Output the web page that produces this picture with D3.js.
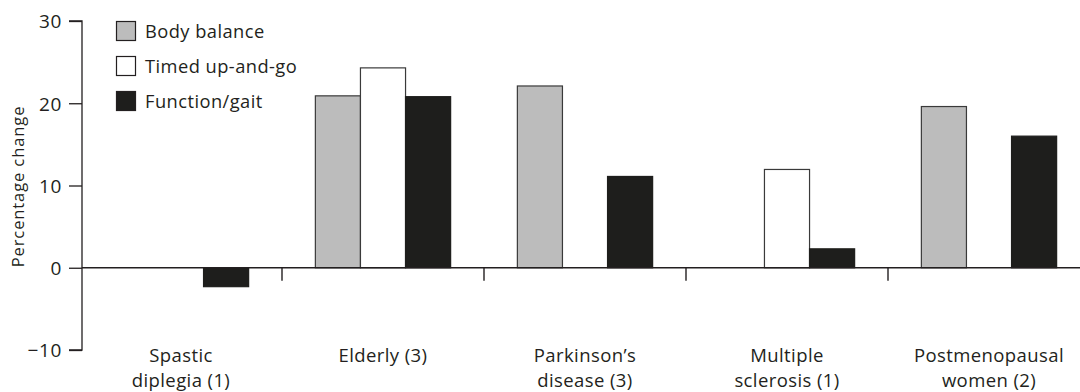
<!DOCTYPE html>
<html><head><meta charset="utf-8">
<script src="https://cdn.jsdelivr.net/npm/d3@7"></script>
<style>
html,body{margin:0;padding:0;background:#fff;}
text{font-family:"Open Sans",Lato,sans-serif;fill:#231f20;}
</style></head>
<body><svg id="c" width="1080" height="392"></svg>
<script>
const categories = [["Spastic","diplegia (1)"],["Elderly (3)"],["Parkinson\u2019s","disease (3)"],["Multiple","sclerosis (1)"],["Postmenopausal","women (2)"]];
const series = ["Body balance","Timed up-and-go","Function/gait"];
const bodyBalance = [null, 20.9, 22.1, null, 19.6];
const timedUpAndGo = [null, 24.3, null, 11.95, null];
const functionGait = [-2.3, 20.8, 11.1, 2.3, 16.0];
const yTicks = [-10, 0, 10, 20, 30];
const yLabel = "Percentage change";

const colors = ["#bcbcbc", "#ffffff", "#1e1e1c"];
const values = [bodyBalance, timedUpAndGo, functionGait];

const svg = d3.select("#c");
const x0 = 80, groupW = 202;
const x = d3.scaleBand().domain(d3.range(categories.length)).range([x0, x0 + groupW*categories.length]).padding(0);
const xs = d3.scaleBand().domain(d3.range(series.length)).range([0, x.bandwidth()]).paddingInner(0).paddingOuter(0.74);
const y = d3.scaleLinear().domain([-10, 30]).range([350, 21]);

// bars
series.forEach((s, si) => {
  const g = svg.append("g");
  values[si].forEach((v, ci) => {
    if (v === null) return;
    const bx = x(ci) + xs(si);
    g.append("rect")
      .attr("x", bx).attr("width", xs.bandwidth())
      .attr("y", y(Math.max(0, v))).attr("height", Math.abs(y(v) - y(0)))
      .attr("fill", colors[si])
      .attr("stroke", si === 2 ? "#1e1e1c" : "#3a3a3a")
      .attr("stroke-width", 1.2);
  });
});

// y axis
const ya = svg.append("g").attr("transform", "translate(82,0)")
  .call(d3.axisLeft(y).tickValues(yTicks).tickSize(13).tickPadding(7).tickFormat(d => d < 0 ? "\u2212" + Math.abs(d) : d));
ya.select(".domain").attr("d", `M-13,${y(30)}H0V${y(-10)}H-13`).attr("stroke", "#231f20").attr("stroke-width", 1.3);
ya.selectAll(".tick line").attr("stroke", "#231f20").attr("stroke-width", 1.3);
ya.selectAll("text").attr("font-size", 19).attr("fill", "#231f20").attr("dy", "0.36em")
  .style("font-family", "'Open Sans', sans-serif").style("letter-spacing", "0.6px");

// x axis at zero
svg.append("line").attr("x1", 82).attr("x2", 1080).attr("y1", y(0)).attr("y2", y(0))
  .attr("stroke", "#231f20").attr("stroke-width", 1.4);
const xt = svg.append("g");
for (let i = 1; i < categories.length; i++) {
  xt.append("line").attr("x1", x(i)).attr("x2", x(i)).attr("y1", y(0)).attr("y2", y(0) + 13)
    .attr("stroke", "#231f20").attr("stroke-width", 1.4);
}
categories.forEach((c, i) => {
  const t = svg.append("text").attr("text-anchor", "middle").attr("font-size", 18.5)
    .style("letter-spacing", "0.4px")
    .attr("x", x(i) + x.bandwidth()/2).attr("y", 362);
  c.forEach((line, li) => t.append("tspan").attr("x", x(i) + x.bandwidth()/2).attr("dy", li === 0 ? 0 : 25).text(line));
});

// y label
svg.append("text").attr("transform", `translate(24,${(y(30)+y(-10))/2 + 1}) rotate(-90)`)
  .attr("text-anchor", "middle").attr("font-size", 16.5).style("letter-spacing", "0.9px").text(yLabel);

// legend
const lg = svg.append("g");
series.forEach((s, i) => {
  const yy = 21 + i * 35;
  lg.append("rect").attr("x", 116.5).attr("y", yy + 0.5).attr("width", 19).attr("height", 19)
    .attr("fill", colors[i]).attr("stroke", "#231f20").attr("stroke-width", 1.2);
  lg.append("text").attr("x", 145).attr("y", yy + 17).attr("font-size", 18.3).style("letter-spacing", "0.45px").text(s);
});
</script></body></html>
